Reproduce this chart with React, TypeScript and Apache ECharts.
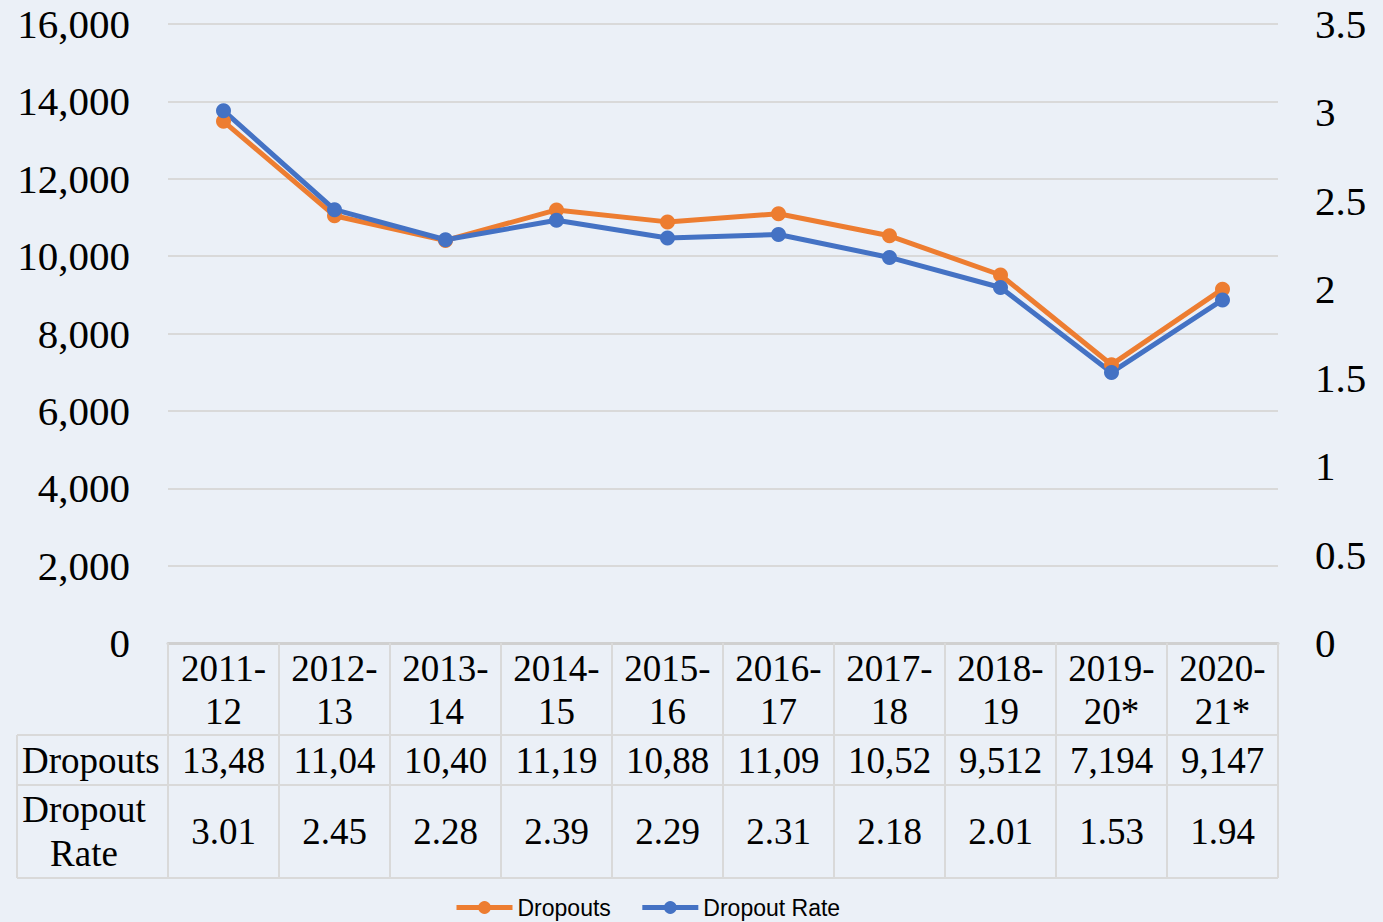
import React, { useEffect, useRef } from "react";
import * as echarts from "echarts";

const categories = ["2011-12", "2012-13", "2013-14", "2014-15", "2015-16", "2016-17", "2017-18", "2018-19", "2019-20*", "2020-21*"];
const dropouts = [13485, 11045, 10405, 11195, 10885, 11095, 10525, 9512, 7194, 9147];
const dropoutRate = [3.01, 2.45, 2.28, 2.39, 2.29, 2.31, 2.18, 2.01, 1.53, 1.94];
const seriesNames = ["Dropouts", "Dropout Rate"];

const SERIF = "'Liberation Serif', 'Times New Roman', serif";
const SANS = "'Liberation Sans', Arial, sans-serif";
const GRID_COLOR = "#D9D9D9";

export default function App() {
  const ref = useRef<HTMLDivElement>(null);
  useEffect(() => {
    document.body.style.margin = "0";
    const chart = echarts.init(ref.current!, null, { renderer: "svg" });
    const hLine = (y: number) => ({
      type: "line",
      shape: { x1: 17, y1: y, x2: 1278, y2: y },
      style: { stroke: GRID_COLOR, lineWidth: 2 },
      silent: true,
    });
    chart.setOption({
      animation: false,
      backgroundColor: "#EBF0F7",
      grid: { left: 168, right: 105, top: 24, bottom: 279, containLabel: false },
      legend: {
        data: seriesNames,
        left: 454,
        top: 896,
        padding: 0,
        itemWidth: 56,
        itemHeight: 16,
        itemGap: 29,
        itemTextGap: 4,
        lineStyle: { width: 5 },
        textStyle: { fontFamily: SANS, fontSize: 23, color: "#000" },
      },
      xAxis: [
        {
          type: "category",
          data: categories,
          boundaryGap: true,
          axisLine: { show: true, lineStyle: { color: "#D0D0D0", width: 3 } },
          axisTick: { show: true, length: 235, lineStyle: { color: GRID_COLOR, width: 2 } },
          axisLabel: {
            interval: 0,
            hideOverlap: false,
            margin: 4,
            fontFamily: SERIF,
            fontSize: 37,
            lineHeight: 43,
            color: "#000",
            formatter: (v: string) => v.replace("-", "-\n"),
          },
          splitLine: { show: false },
        },
        {
          type: "category",
          data: dropouts.map((v) => v.toLocaleString("en-US").slice(0, 5)),
          position: "bottom",
          offset: 92,
          boundaryGap: true,
          axisLine: { show: false },
          axisTick: { show: false },
          axisLabel: {
            interval: 0,
            hideOverlap: false,
            margin: 0,
            fontFamily: SERIF,
            fontSize: 37,
            lineHeight: 50,
            color: "#000",
          },
          splitLine: { show: false },
        },
        {
          type: "category",
          data: dropoutRate.map((v) => v.toFixed(2)),
          position: "bottom",
          offset: 142,
          boundaryGap: true,
          axisLine: { show: false },
          axisTick: { show: false },
          axisLabel: {
            interval: 0,
            hideOverlap: false,
            margin: 0,
            fontFamily: SERIF,
            fontSize: 37,
            lineHeight: 93,
            color: "#000",
          },
          splitLine: { show: false },
        },
      ],
      yAxis: [
        {
          type: "value",
          min: 0,
          max: 16000,
          interval: 2000,
          axisLine: { show: false },
          axisTick: { show: false },
          axisLabel: {
            margin: 38,
            fontFamily: SERIF,
            fontSize: 41,
            color: "#000",
            formatter: (v: number) => v.toLocaleString("en-US"),
          },
          splitLine: { show: true, lineStyle: { color: GRID_COLOR, width: 2 } },
        },
        {
          type: "value",
          position: "right",
          min: 0,
          max: 3.5,
          interval: 0.5,
          axisLine: { show: false },
          axisTick: { show: false },
          axisLabel: {
            margin: 37,
            fontFamily: SERIF,
            fontSize: 41,
            color: "#000",
          },
          splitLine: { show: false },
        },
      ],
      series: [
        {
          name: seriesNames[0],
          type: "line",
          data: dropouts,
          xAxisIndex: 0,
          yAxisIndex: 0,
          symbol: "circle",
          symbolSize: 15,
          lineStyle: { width: 5, color: "#ED7D31" },
          itemStyle: { color: "#ED7D31" },
        },
        {
          name: seriesNames[1],
          type: "line",
          data: dropoutRate,
          xAxisIndex: 0,
          yAxisIndex: 1,
          symbol: "circle",
          symbolSize: 15,
          lineStyle: { width: 5, color: "#4472C4" },
          itemStyle: { color: "#4472C4" },
        },
      ],
      graphic: [
        hLine(735),
        hLine(785),
        hLine(878),
        {
          type: "line",
          shape: { x1: 17, y1: 735, x2: 17, y2: 878 },
          style: { stroke: GRID_COLOR, lineWidth: 2 },
          silent: true,
        },
        {
          type: "text",
          x: 22,
          y: 760,
          style: {
            text: "Dropouts",
            font: `37px ${SERIF}`,
            fill: "#000",
            textAlign: "left",
            textVerticalAlign: "middle",
          },
        },
        {
          type: "text",
          x: 84,
          y: 831,
          style: {
            text: "Dropout\nRate",
            font: `37px ${SERIF}`,
            lineHeight: 44,
            fill: "#000",
            textAlign: "center",
            textVerticalAlign: "middle",
          },
        },
      ],
    });
    return () => chart.dispose();
  }, []);
  return <div ref={ref} style={{ width: 1383, height: 922 }} />;
}
